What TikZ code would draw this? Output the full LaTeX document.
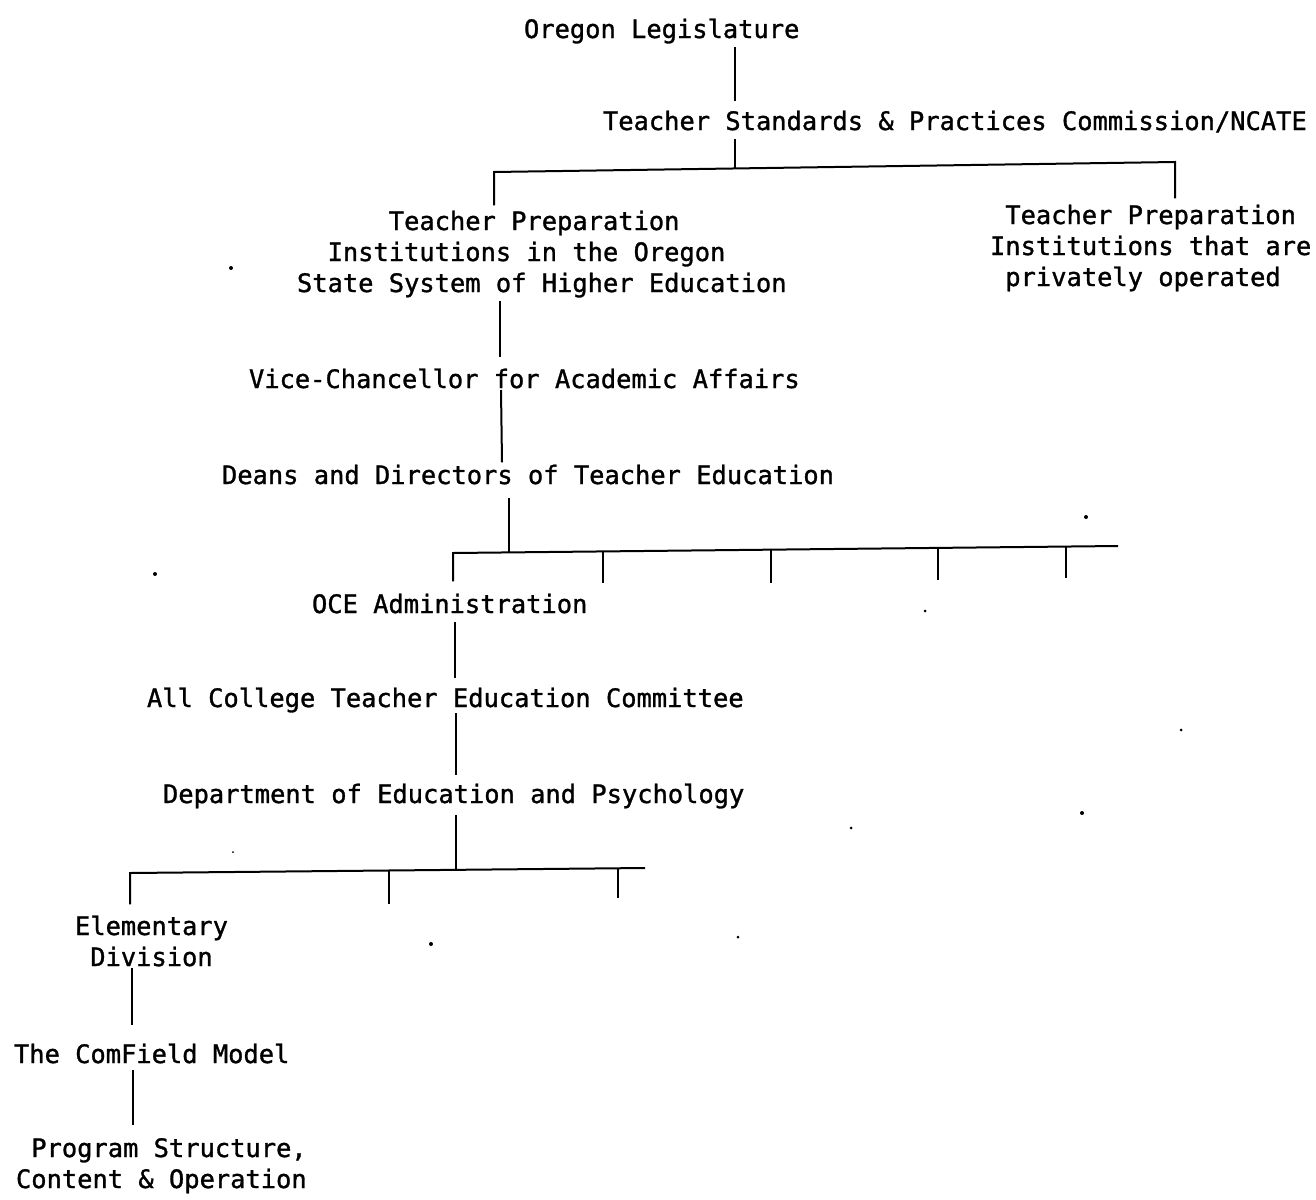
\documentclass[tikz,border=0pt]{standalone}
\usepackage{fontspec}
\newfontfamily\tw[FakeBold=1.2]{DejaVu Sans Mono}
\usetikzlibrary{calc}
\begin{document}
\begin{tikzpicture}[x=0.75pt,y=-0.75pt,
  lbl/.style={inner sep=0pt,outer sep=0pt,anchor=north west,font=\tw\fontsize{19.06}{23.25}\selectfont},
  conn/.style={line width=1.5pt,line cap=butt,line join=miter},
  speck/.style={fill=black}]
\fill[white] (0,0) rectangle (1316,1199);
\useasboundingbox (0,0) rectangle (1316,1199);

% nodes
\node[lbl] (leg) at (524,16.3) {\strut Oregon Legislature};
\node[lbl] (tspc) at (603,108.3) {\strut Teacher Standards \& Practices Commission/NCATE};
\node[lbl,align=left] (tpi) at (297,208.3) {\strut\phantom{XXXXXX}Teacher Preparation\\\strut\phantom{XX}Institutions in the Oregon\\\strut State System of Higher Education};
\node[lbl,align=left] (tpp) at (990,202.3) {\strut\phantom{X}Teacher Preparation\\\strut Institutions that are\\\strut\phantom{X}privately operated};
\node[lbl] (vice) at (249,366.3) {\strut Vice-Chancellor for Academic Affairs};
\node[lbl] (deans) at (222,462.3) {\strut Deans and Directors of Teacher Education};
\node[lbl] (oce) at (312,591.3) {\strut OCE Administration};
\node[lbl] (allc) at (147,685.3) {\strut All College Teacher Education Committee};
\node[lbl] (dept) at (163,781.3) {\strut Department of Education and Psychology};
\node[lbl,align=center] (elem) at (75,913.3) {\strut Elementary\\\strut Division};
\node[lbl] (comf) at (14,1041.3) {\strut The ComField Model};
\node[lbl,align=left] (prog) at (16,1135.3) {\strut\phantom{X}Program Structure,\\\strut Content \& Operation};

% bus coordinates
\coordinate (j1) at (735,168.5);
\coordinate (b1l) at (494,172);
\coordinate (b1r) at (1175,162);
\coordinate (j2) at (509,552.4);
\coordinate (b2l) at (453,553);
\coordinate (b2r) at (1118,546);
\coordinate (d1t) at (603,551.4); \coordinate (d1b) at (603,583);
\coordinate (d2t) at (771,549.7); \coordinate (d2b) at (771,583);
\coordinate (d3t) at (938,547.9); \coordinate (d3b) at (938,580);
\coordinate (d4t) at (1066,546.5); \coordinate (d4b) at (1066,578);
\coordinate (j3) at (456,869.8);
\coordinate (b3l) at (130,873);
\coordinate (b3r) at (645,868);
\coordinate (e1t) at (389,870.5); \coordinate (e1b) at (389,904);
\coordinate (e2t) at (618,868.3); \coordinate (e2b) at (618,898);

% connectors
\draw[conn] (leg.south -| 735,0) -- ($(tspc.north -| 735,0)+(0,-7)$);
\draw[conn] (tspc.south -| 735,0) -- (j1);
\draw[conn] ($(tpi.north -| 494,0)+(0,-3)$) -- (b1l) -- (b1r) -- ($(tpp.north -| 1175,0)+(0,-4)$);
\draw[conn] (tpi.south -| 500,0) -- ($(vice.north -| 500,0)+(0,-9)$);
\draw[conn] ($(vice.base -| 501,0)+(0,2)$) -- (deans.north -| 502,0);
\draw[conn] ($(deans.south -| 509,0)+(0,5)$) -- (j2);
\draw[conn] ($(oce.north -| 453,0)+(0,-10)$) -- (b2l) -- (b2r);
\draw[conn] (d1t) -- (d1b);
\draw[conn] (d2t) -- (d2b);
\draw[conn] (d3t) -- (d3b);
\draw[conn] (d4t) -- (d4b);
\draw[conn] (oce.south -| 455,0) -- ($(allc.north -| 455,0)+(0,-7)$);
\draw[conn] ($(allc.base -| 456,0)+(0,6)$) -- ($(dept.north -| 456,0)+(0,-6)$);
\draw[conn] ($(dept.south -| 456,0)+(0,3)$) -- (j3);
\draw[conn] ($(elem.north -| 130,0)+(0,-9)$) -- (b3l) -- (b3r);
\draw[conn] (e1t) -- (e1b);
\draw[conn] (e2t) -- (e2b);
\draw[conn] ($(elem.south -| 132,0)+(0,-7)$) -- ($(comf.north -| 132,0)+(0,-16)$);
\draw[conn] ($(comf.south -| 133,0)+(0,-2)$) -- ($(prog.north -| 133,0)+(0,-10)$);

% specks
\fill[speck] (231,268) circle (2);
\fill[speck] (155,574) circle (2);
\fill[speck] (1086,517) circle (2);
\fill[speck] (925,611) circle (1.5);
\fill[speck] (1181,730) circle (1.5);
\fill[speck] (1082,813) circle (2);
\fill[speck] (851,828) circle (1.5);
\fill[speck] (431,944) circle (2);
\fill[speck] (738,937) circle (1.5);
\fill[speck] (233,852) circle (1);
\end{tikzpicture}
\end{document}
